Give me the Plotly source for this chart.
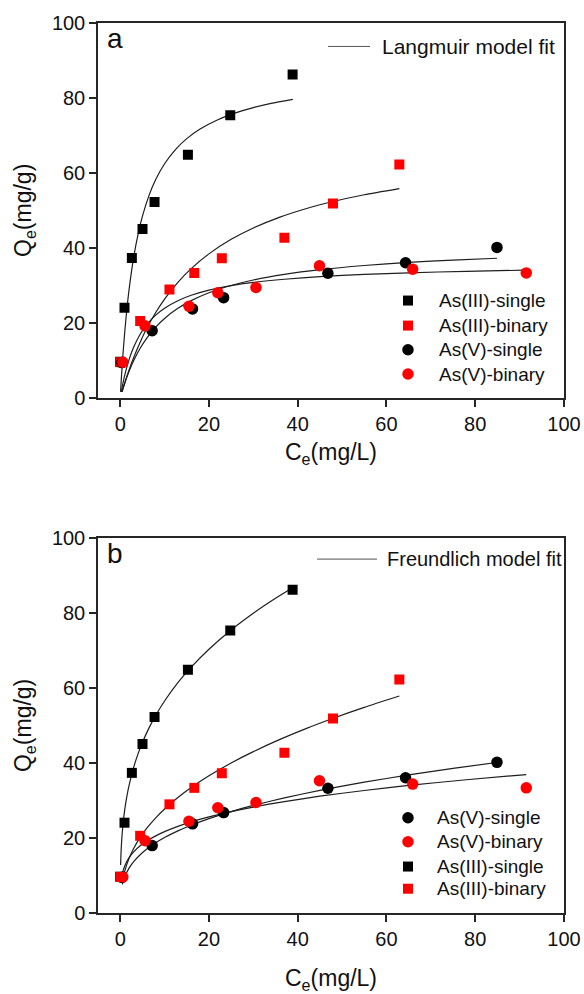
import plotly.graph_objects as go

# ---------------- equilibrium data: Ce (mg/L), Qe (mg/g) ----------------
as3_single_ce = [0.0, 0.97, 2.63, 5.03, 7.74, 15.26, 24.8, 38.85]
as3_single_qe = [9.7, 24.1, 37.4, 45.1, 52.3, 64.9, 75.4, 86.3]

as3_binary_ce = [0.1, 4.5, 11.1, 16.7, 22.9, 37.0, 47.95, 62.9]
as3_binary_qe = [9.6, 20.6, 29.0, 33.4, 37.3, 42.8, 51.9, 62.3]

as5_single_ce = [0.4, 7.2, 16.3, 23.3, 46.8, 64.3, 84.9]
as5_single_qe = [9.5, 18.0, 23.8, 26.8, 33.3, 36.1, 40.2]

as5_binary_ce = [0.6, 5.6, 15.5, 22.0, 30.6, 44.9, 65.9, 91.5]
as5_binary_qe = [9.6, 19.3, 24.5, 28.1, 29.5, 35.3, 34.4, 33.4]

# ---------------- Langmuir fit curves ----------------
lang_as3_single_ce = [0.08, 0.3, 0.6, 1, 1.5, 2, 3, 4, 5, 6.5, 8, 10, 12.5, 15, 18, 22, 26, 30, 34, 38.9]
lang_as3_single_qe = [1.69, 6.03, 11.28, 17.32, 23.65, 28.94, 37.28, 43.56, 48.45, 54.06, 58.27,
                      62.49, 66.34, 69.18, 71.73, 74.23, 76.06, 77.46, 78.57, 79.64]

lang_as3_binary_ce = [0.42, 1, 2, 3, 4.5, 6, 8, 10, 13, 16, 20, 25, 30, 36, 42, 48, 55, 62.9]
lang_as3_binary_qe = [1.73, 3.98, 7.53, 10.72, 14.95, 18.63, 22.83, 26.41, 30.88, 34.53, 38.47,
                      42.34, 45.38, 48.27, 50.57, 52.44, 54.23, 55.87]

lang_as5_single_ce = [0.4, 1, 2, 3, 4.5, 6, 8, 10, 13, 16, 20, 25, 30, 37, 45, 55, 65, 75, 84.9]
lang_as5_single_qe = [1.67, 3.94, 7.20, 9.94, 13.32, 16.04, 18.95, 21.26, 23.95, 26.01, 28.11,
                      30.05, 31.50, 33.00, 34.25, 35.37, 36.20, 36.82, 37.31]

lang_as5_binary_ce = [0.25, 0.6, 1, 1.5, 2, 3, 4.5, 6, 8, 10, 13, 16, 20, 25, 30, 37, 45, 55, 65, 78, 91.5]
lang_as5_binary_qe = [1.71, 3.86, 6.0, 8.31, 10.29, 13.5, 17.05, 19.64, 22.15, 24.0, 26.0, 27.43,
                      28.8, 30.0, 30.86, 31.71, 32.4, 33.0, 33.43, 33.83, 34.13]

# ---------------- Freundlich fit curves ----------------
freu_as3_single_ce = [0.09, 0.2, 0.4, 0.7, 1, 1.5, 2, 3, 4, 5, 6.5, 8, 10, 13, 16, 20, 25, 30, 35, 38.85]
freu_as3_single_qe = [12.83, 16.50, 20.53, 24.49, 27.4, 31.13, 34.09, 38.73, 42.40, 45.49, 49.41,
                      52.75, 56.59, 61.47, 65.62, 70.40, 75.53, 79.99, 83.97, 86.78]

freu_as3_binary_ce = [0.45, 1, 2, 3, 4.5, 6, 8, 10, 13, 16, 20, 25, 30, 36, 42, 48, 55, 62.9]
freu_as3_binary_qe = [8.03, 11.05, 14.58, 17.15, 20.17, 22.63, 25.39, 27.76, 30.83, 33.50, 36.62,
                      40.04, 43.07, 46.33, 49.28, 51.98, 54.89, 57.92]

freu_as5_single_ce = [0.5, 1, 2, 3, 4.5, 6, 8, 10, 13, 16, 20, 25, 30, 37, 45, 55, 65, 75, 84.9]
freu_as5_single_qe = [7.65, 9.57, 11.97, 13.65, 15.56, 17.07, 18.73, 20.13, 21.91, 23.43, 25.19,
                      27.07, 28.71, 30.72, 32.73, 34.92, 36.85, 38.59, 40.17]

freu_as5_binary_ce = [0.2, 0.5, 1, 2, 3, 4.5, 6, 8, 10, 13, 16, 20, 25, 30, 37, 45, 55, 65, 78, 91.5]
freu_as5_binary_qe = [8.50, 10.58, 12.5, 14.76, 16.27, 17.93, 19.22, 20.59, 21.72, 23.13, 24.32,
                      25.65, 27.07, 28.28, 29.74, 31.17, 32.70, 34.04, 35.56, 36.95]

x_ticks = [0, 20, 40, 60, 80, 100]
y_ticks = [0, 20, 40, 60, 80, 100]

RED = "#ff0000"
BLACK = "#000000"
CURVE = "#1e1e1e"
FONT = "Arial, 'Liberation Sans', sans-serif"
SQUARE_SIZE = 10
CIRCLE_SIZE = 11.5

fig = go.Figure()


def add_curve(ce, qe, xa, ya, name):
    fig.add_trace(go.Scatter(
        x=ce, y=qe, mode="lines", name=name,
        line=dict(color=CURVE, width=1.2, shape="spline", smoothing=0.6),
        xaxis=xa, yaxis=ya, showlegend=False, hoverinfo="skip"))


def add_points(ce, qe, xa, ya, name, color, symbol):
    fig.add_trace(go.Scatter(
        x=ce, y=qe, mode="markers", name=name, showlegend=False,
        marker=dict(color=color, symbol=symbol,
                    size=SQUARE_SIZE if symbol == "square" else CIRCLE_SIZE,
                    line=dict(width=0)),
        xaxis=xa, yaxis=ya))


# ---- panel a: Langmuir ----
add_curve(lang_as3_single_ce, lang_as3_single_qe, "x", "y", "Langmuir As(III)-single")
add_curve(lang_as3_binary_ce, lang_as3_binary_qe, "x", "y", "Langmuir As(III)-binary")
add_curve(lang_as5_single_ce, lang_as5_single_qe, "x", "y", "Langmuir As(V)-single")
add_curve(lang_as5_binary_ce, lang_as5_binary_qe, "x", "y", "Langmuir As(V)-binary")
add_points(as3_single_ce, as3_single_qe, "x", "y", "As(III)-single", BLACK, "square")
add_points(as3_binary_ce, as3_binary_qe, "x", "y", "As(III)-binary", RED, "square")
add_points(as5_single_ce, as5_single_qe, "x", "y", "As(V)-single", BLACK, "circle")
add_points(as5_binary_ce, as5_binary_qe, "x", "y", "As(V)-binary", RED, "circle")

# ---- panel b: Freundlich ----
add_curve(freu_as3_single_ce, freu_as3_single_qe, "x2", "y2", "Freundlich As(III)-single")
add_curve(freu_as3_binary_ce, freu_as3_binary_qe, "x2", "y2", "Freundlich As(III)-binary")
add_curve(freu_as5_single_ce, freu_as5_single_qe, "x2", "y2", "Freundlich As(V)-single")
add_curve(freu_as5_binary_ce, freu_as5_binary_qe, "x2", "y2", "Freundlich As(V)-binary")
add_points(as5_single_ce, as5_single_qe, "x2", "y2", "As(V)-single", BLACK, "circle")
add_points(as5_binary_ce, as5_binary_qe, "x2", "y2", "As(V)-binary", RED, "circle")
add_points(as3_single_ce, as3_single_qe, "x2", "y2", "As(III)-single", BLACK, "square")
add_points(as3_binary_ce, as3_binary_qe, "x2", "y2", "As(III)-binary", RED, "square")

# ---- legend keys (drawn as shapes + text so the row spacing stays compact) ----
shapes = []
annotations = []


def legend_marker(xref, yref, x_key, x_text, y, label, color, symbol):
    size = SQUARE_SIZE if symbol == "square" else CIRCLE_SIZE
    shapes.append(dict(type="rect" if symbol == "square" else "circle",
                       xref=xref, yref=yref, xsizemode="pixel", ysizemode="pixel",
                       xanchor=x_key, yanchor=y, x0=-size / 2, x1=size / 2,
                       y0=-size / 2, y1=size / 2, fillcolor=color, line=dict(width=0)))
    annotations.append(dict(text=label, xref=xref, yref=yref, x=x_text, y=y,
                            xanchor="left", yanchor="middle", showarrow=False,
                            font=dict(family=FONT, size=19, color="#111")))


def legend_line(xref, yref, x0, x1, x_text, y, label, size):
    shapes.append(dict(type="line", xref=xref, yref=yref, x0=x0, x1=x1, y0=y, y1=y,
                       line=dict(color="#555", width=1)))
    annotations.append(dict(text=label, xref=xref, yref=yref, x=x_text, y=y,
                            xanchor="left", yanchor="middle", showarrow=False,
                            font=dict(family=FONT, size=size, color="#111")))


# panel a keys (domain fractions of panel a)
legend_line("x domain", "y domain", 0.4936, 0.5837, 0.6052, 0.9375, "Langmuir model fit", 21)
rows_a = [0.2603, 0.1936, 0.1293, 0.0645]
keys_a = [("As(III)-single", BLACK, "square"), ("As(III)-binary", RED, "square"),
          ("As(V)-single", BLACK, "circle"), ("As(V)-binary", RED, "circle")]
for yy, (lab, col, sym) in zip(rows_a, keys_a):
    legend_marker("x domain", "y domain", 0.6652, 0.7275, yy, lab, col, sym)

# panel b keys (domain fractions of panel b)
legend_line("x2 domain", "y2 domain", 0.4700, 0.5987, 0.6159, 0.9445, "Freundlich model fit", 20)
rows_b = [0.2541, 0.1901, 0.1240, 0.0648]
keys_b = [("As(V)-single", BLACK, "circle"), ("As(V)-binary", RED, "circle"),
          ("As(III)-single", BLACK, "square"), ("As(III)-binary", RED, "square")]
for yy, (lab, col, sym) in zip(rows_b, keys_b):
    legend_marker("x2 domain", "y2 domain", 0.6652, 0.7232, yy, lab, col, sym)

# panel letters and rotated y titles
for xr, yr, letter in [("x domain", "y domain", "a"), ("x2 domain", "y2 domain", "b")]:
    annotations.append(dict(text=letter, xref=xr, yref=yr, x=0.016, y=1.006,
                            xanchor="left", yanchor="top", showarrow=False,
                            font=dict(family=FONT, size=28, color="#111")))
    annotations.append(dict(text="Q<sub>e</sub>(mg/g)", xref=xr, yref=yr, x=-0.158, y=0.5,
                            xanchor="center", yanchor="middle", textangle=-90,
                            showarrow=False, font=dict(family=FONT, size=23, color="#111")))

axis_common = dict(
    showline=True, linecolor="#262626", linewidth=1.5, mirror=True,
    ticks="outside", ticklen=7, tickwidth=1.5, tickcolor="#262626",
    showgrid=False, zeroline=False, automargin=False,
    tickfont=dict(family=FONT, size=20, color="#111"),
)


def x_axis(anchor, standoff):
    return dict(axis_common, range=[-5, 100], tickvals=x_ticks, anchor=anchor,
                domain=[0, 1],
                title=dict(text="C<sub>e</sub>(mg/L)", standoff=standoff,
                           font=dict(family=FONT, size=23, color="#111")))


def y_axis(domain, anchor):
    return dict(axis_common, range=[0, 100], tickvals=y_ticks, anchor=anchor, domain=domain)


fig.update_layout(
    width=584, height=994,
    margin=dict(l=98, r=20, t=23, b=81),
    paper_bgcolor="white", plot_bgcolor="white",
    font=dict(family=FONT, color="#111"),
    showlegend=False,
    xaxis=x_axis("y", 10),
    yaxis=y_axis([0.5784, 1.0], "x"),
    xaxis2=x_axis("y2", 22),
    yaxis2=y_axis([0.0, 0.421], "x2"),
    shapes=shapes,
    annotations=annotations,
)

fig.write_html("out.html")
